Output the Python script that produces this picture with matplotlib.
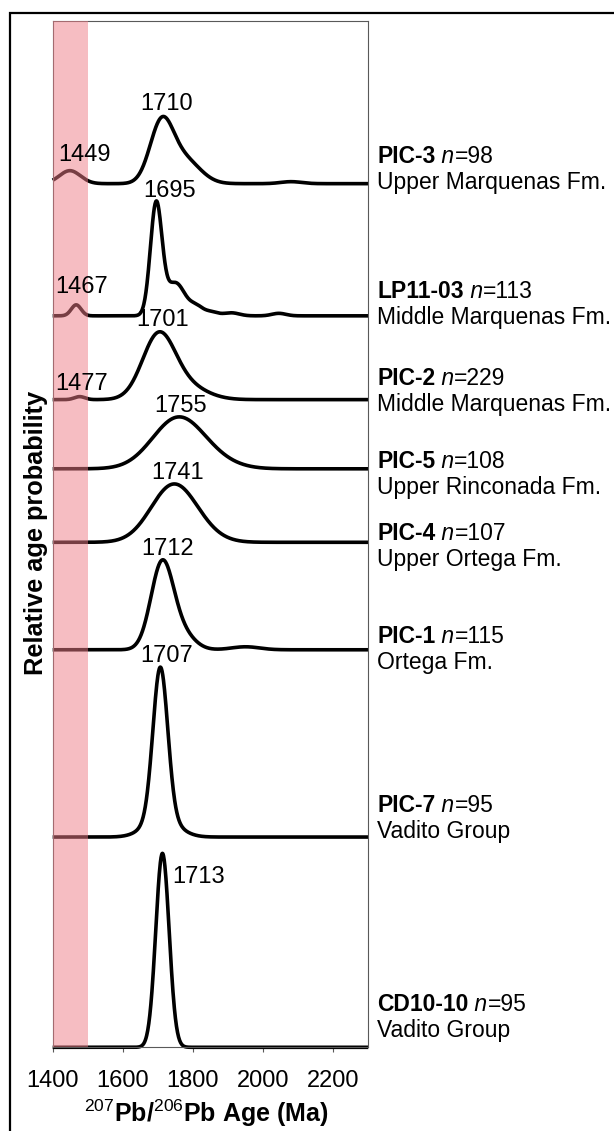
import numpy as np
import matplotlib
matplotlib.use('Agg')
import matplotlib.pyplot as plt
import matplotlib.transforms as mtransforms
from matplotlib.patches import Rectangle

plt.rcParams['font.family'] = ['Liberation Sans', 'DejaVu Sans']
plt.rcParams['mathtext.fontset'] = 'custom'
plt.rcParams['mathtext.rm'] = 'Liberation Sans'
plt.rcParams['mathtext.it'] = 'Liberation Sans:italic'
plt.rcParams['mathtext.bf'] = 'Liberation Sans:bold'

# samples, top to bottom
samples = ['PIC-3', 'LP11-03', 'PIC-2', 'PIC-5', 'PIC-4', 'PIC-1', 'PIC-7', 'CD10-10']
n_grains = [98, 113, 229, 108, 107, 115, 95, 95]
units = ['Upper Marquenas Fm.', 'Middle Marquenas Fm.', 'Middle Marquenas Fm.',
         'Upper Rinconada Fm.', 'Upper Ortega Fm.', 'Ortega Fm.',
         'Vadito Group', 'Vadito Group']

# stacking offset of each curve (relative probability units)
offsets = [863.8, 731.6, 647.8, 578.6, 505.1, 397.6, 210.3, 0.0]

# age populations of each curve: centre (Ma), spread (Ma), height
pic3_age = [1449, 1710, 1775, 2080]
pic3_sig = [30, 33, 45, 30]
pic3_amp = [13, 58, 24, 2]

lp1103_age = [1467, 1695, 1750, 1810, 1850, 1910, 2045]
lp1103_sig = [14, 16.5, 28, 18, 20, 22, 20]
lp1103_amp = [11, 110, 33, 8, 4, 3, 2.5]

pic2_age = [1477, 1701, 1775]
pic2_sig = [15, 46, 60]
pic2_amp = [3, 61, 14]

pic5_age = [1755, 1850]
pic5_sig = [72, 70]
pic5_amp = [49, 7]

pic4_age = [1741, 1810]
pic4_sig = [63, 60]
pic4_amp = [54, 8]

pic1_age = [1712, 1770, 1950]
pic1_sig = [32, 35, 40]
pic1_amp = [86, 15, 3]

pic7_age = [1707, 1710]
pic7_sig = [21, 45]
pic7_amp = [150, 20]

cd1010_age = [1713]
cd1010_sig = [19]
cd1010_amp = [194]

components = [
    (pic3_age, pic3_sig, pic3_amp),
    (lp1103_age, lp1103_sig, lp1103_amp),
    (pic2_age, pic2_sig, pic2_amp),
    (pic5_age, pic5_sig, pic5_amp),
    (pic4_age, pic4_sig, pic4_amp),
    (pic1_age, pic1_sig, pic1_amp),
    (pic7_age, pic7_sig, pic7_amp),
    (cd1010_age, cd1010_sig, cd1010_amp),
]

# labelled peaks
main_peaks = [1710, 1695, 1701, 1755, 1741, 1712, 1707, 1713]
minor_peaks = {0: 1449, 1: 1467, 2: 1477}

# label placement (pixels from the peak top)
main_dx = [5, 13, 4, 3, 5, 5, 6, 10]
main_dy = [15, 12.5, 13.7, 13, 13.5, 12.6, 12.7, -22]
minor_dx = {0: 14.5, 1: 5.6, 2: 2}
minor_dy = {0: 17.7, 1: 20, 2: 15}

# baseline of the sample name line
name_y = [884, 749, 662.3, 579, 507.3, 404.6, 235.6, 36.6]

ages = np.linspace(1400, 2300, 901)


def pdp(x, centres, sigmas, heights):
    y = np.zeros_like(x)
    for c, s, h in zip(centres, sigmas, heights):
        y += h * np.exp(-(x - c) ** 2 / (2.0 * s ** 2))
    return y


fig = plt.figure(figsize=(6.14, 11.31), dpi=100)
ax = fig.add_axes([0.0858, 0.0740, 0.5140, 0.9070])

for i, (c, s, h) in enumerate(components):
    y = offsets[i] + pdp(ages, c, s, h)
    ax.plot(ages, y, color='black', lw=2.6, solid_joinstyle='round',
            solid_capstyle='butt', clip_on=False, zorder=2)

    pk = main_peaks[i]
    top = offsets[i] + pdp(np.array([pk], dtype=float), c, s, h)[0]
    ha = 'left' if main_dy[i] < 0 else 'center'
    ax.annotate(str(pk), xy=(pk, top), xytext=(main_dx[i], main_dy[i] - 8),
                textcoords='offset pixels', ha=ha, va='baseline', fontsize=17,
                zorder=5)
    if i in minor_peaks:
        mp = minor_peaks[i]
        mtop = offsets[i] + pdp(np.array([mp], dtype=float), c, s, h)[0]
        ax.annotate(str(mp), xy=(mp, mtop),
                    xytext=(minor_dx[i], minor_dy[i] - 8),
                    textcoords='offset pixels', ha='center', va='baseline',
                    fontsize=17, zorder=5)

# highlighted age window
ax.axvspan(1400, 1500, facecolor='#ef7d87', alpha=0.5, lw=0, zorder=3)

# sample labels to the right of the plot
trans = mtransforms.blended_transform_factory(ax.transAxes, ax.transData)
for i, name in enumerate(samples):
    t0 = ax.text(1.028, name_y[i], name, transform=trans, fontsize=16.5,
                 weight='bold', ha='left', va='baseline', clip_on=False)
    t1 = ax.annotate(' n', xy=(1, 0), xycoords=t0, fontsize=16.5,
                     style='italic', ha='left', va='bottom')
    ax.annotate('=%d' % n_grains[i], xy=(1, 0), xycoords=t1, fontsize=16.5,
                ha='left', va='bottom')
    ax.text(1.028, name_y[i] - 26, units[i], transform=trans, fontsize=16.5,
            ha='left', va='baseline', clip_on=False)

ax.set_xlim(1400, 2300)
ax.set_ylim(0, 1026)
ax.set_xticks([1400, 1600, 1800, 2000, 2200])
ax.set_yticks([])
ax.tick_params(axis='x', direction='out', length=3.6, width=0.8,
               color='#595959', labelsize=17, pad=13)
for sp in ax.spines.values():
    sp.set_color('#595959')
    sp.set_linewidth(0.8)

fig.text(0.0593, 0.5287, 'Relative age probability', rotation=90,
         fontsize=18.3, weight='bold', ha='center', va='center')
fig.text(0.3366, 0.0082, r'$^{207}$Pb/$^{206}$Pb Age (Ma)', fontsize=18,
         weight='bold', ha='center', va='baseline')

# outer panel frame
fig.add_artist(Rectangle((10 / 614, -0.05), 1.2, 1.05 - 13.3 / 1131,
                         transform=fig.transFigure, fill=False,
                         ec='black', lw=1.6, clip_on=False))

fig.savefig('out.png', dpi=100)
